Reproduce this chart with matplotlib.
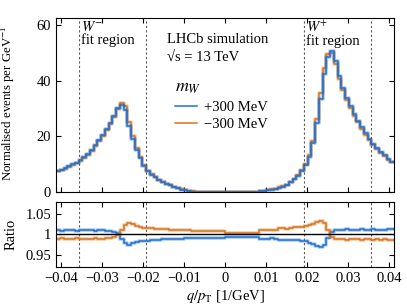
import numpy as np
import matplotlib
matplotlib.use('Agg')
import matplotlib.pyplot as plt
from matplotlib.ticker import FuncFormatter

plt.rcParams['font.family'] = ['Liberation Serif', 'DejaVu Serif']
plt.rcParams['mathtext.fontset'] = 'stix'
plt.rcParams['font.size'] = 10.5

# binning of q/pT
x_lo, x_hi, n_bins = -0.0412, 0.0412, 90
fit_edges = [-0.0357, -0.01923, 0.01923, 0.0357]

# nominal distribution (events per GeV^-1)
nominal = [7.5, 8.0, 8.5, 9.1, 9.8, 10.5, 11.3, 12.4, 13.6, 15.0,
           16.8, 18.4, 20.3, 22.5, 24.6, 27.2, 30.0, 31.6, 30.0, 24.5,
           19.5, 15.5, 12.3, 9.6, 7.6, 6.3, 5.3, 4.4, 3.6, 3.0,
           2.4, 1.8, 1.3, 0.9, 0.6, 0.35, 0.18, 0.08, 0.03, 0.01,
           0, 0, 0, 0, 0, 0, 0, 0, 0, 0,
           0.01, 0.03, 0.06, 0.12, 0.2, 0.35, 0.6, 0.9, 1.2, 1.6,
           2.0, 2.6, 3.5, 4.6, 5.9, 7.6, 9.8, 13.0, 18.0, 25.5,
           34.5, 43.5, 49.0, 50.3, 46.5, 41.0, 37.0, 33.5, 30.5, 27.8,
           25.3, 23.0, 20.8, 18.8, 17.0, 15.5, 14.2, 13.0, 11.8, 10.8]

# ratio to nominal, m_W +300 MeV
ratio_plus = [1.010, 1.009, 1.010, 1.011, 1.010, 1.009, 1.010, 1.010, 1.011, 1.010,
              1.009, 1.010, 1.010, 1.009, 1.008, 1.006, 1.003, 0.990, 0.980, 0.974,
              0.978, 0.981, 0.983, 0.984, 0.985, 0.986, 0.987, 0.987, 0.988, 0.988,
              0.989, 0.990, 0.990, 0.990, 0.991, 0.992, 0.992, 0.992, 0.992, 0.992,
              0.992, 0.992, 0.992, 0.992, 0.992, 0.995, 0.995, 0.995, 0.995, 0.995,
              0.995, 0.995, 0.995, 0.995, 0.990, 0.990, 0.990, 0.991, 0.990, 0.986,
              0.986, 0.987, 0.986, 0.986, 0.986, 0.985, 0.984, 0.980, 0.976, 0.972,
              0.968, 0.975, 0.992, 1.005, 1.010, 1.012, 1.012, 1.013, 1.012, 1.012,
              1.012, 1.013, 1.012, 1.012, 1.013, 1.012, 1.012, 1.012, 1.013, 1.013]

# ratio to nominal, m_W -300 MeV
ratio_minus = [0.990, 0.991, 0.990, 0.989, 0.990, 0.991, 0.990, 0.990, 0.989, 0.990,
               0.991, 0.990, 0.990, 0.991, 0.992, 0.994, 0.998, 1.012, 1.024, 1.028,
               1.025, 1.022, 1.019, 1.017, 1.016, 1.015, 1.014, 1.014, 1.013, 1.013,
               1.012, 1.011, 1.011, 1.010, 1.010, 1.010, 1.009, 1.009, 1.009, 1.009,
               1.009, 1.009, 1.009, 1.009, 1.009, 1.004, 1.004, 1.004, 1.004, 1.004,
               1.004, 1.004, 1.004, 1.004, 1.010, 1.010, 1.011, 1.010, 1.010, 1.015,
               1.015, 1.014, 1.015, 1.019, 1.019, 1.019, 1.021, 1.024, 1.027, 1.030,
               1.034, 1.028, 1.010, 0.995, 0.990, 0.988, 0.988, 0.987, 0.988, 0.988,
               0.988, 0.987, 0.988, 0.988, 0.987, 0.988, 0.987, 0.988, 0.987, 0.987]

edges = np.linspace(x_lo, x_hi, n_bins + 1)
nominal = np.array(nominal)
ratio_plus = np.array(ratio_plus)
ratio_minus = np.array(ratio_minus)
h_plus = nominal * ratio_plus
h_minus = nominal * ratio_minus

c_plus = '#1f6fd0'
c_minus = '#d8721c'

fig = plt.figure(figsize=(4.07, 3.05), dpi=100)
ax = fig.add_axes([0.1376, 0.3705, 0.8305, 0.5705])
axr = fig.add_axes([0.1376, 0.1246, 0.8305, 0.2131])


def step(a, y, color, **kw):
    yy = np.append(y, y[-1])
    a.step(edges, yy, where='post', color=color, alpha=0.3, lw=2.8)
    return a.step(edges, yy, where='post', color=color, lw=1.1, **kw)


step(ax, h_minus, c_minus, label='\u2212300 MeV')
step(ax, h_plus, c_plus, label='+300 MeV')

for xe in fit_edges:
    ax.axvline(xe, color='0.35', ls=(0, (2, 2)), lw=0.8)
    axr.axvline(xe, color='0.35', ls=(0, (2, 2)), lw=0.8)

ax.set_xlim(x_lo, x_hi)
ax.set_ylim(0, 62.5)
ax.set_yticks([0, 20, 40, 60])
ax.set_xticks([-0.04, -0.03, -0.02, -0.01, 0, 0.01, 0.02, 0.03, 0.04])
ax.set_xticklabels([])
ax.set_ylabel('Normalised events per GeV$^{-1}$', fontsize=9.3)
ax.yaxis.set_label_coords(-0.115, 0.51)

ax.text(-0.0352, 61.8, '$W^{-}$\nfit region', va='top', ha='left', linespacing=0.95)
ax.text(0.0197, 61.8, '$W^{+}$\nfit region', va='top', ha='left', linespacing=0.95)
ax.text(-0.0141, 57.0, 'LHCb simulation\n\u221as = 13 TeV', va='top', ha='left',
        linespacing=1.45)

handles, labels = ax.get_legend_handles_labels()
leg = ax.legend(handles[::-1], labels[::-1], title='$m_W$', loc='upper left',
                bbox_to_anchor=(0.335, 0.685), frameon=False, handlelength=1.5,
                handletextpad=0.5, labelspacing=0.3, borderaxespad=0,
                title_fontsize=13)
leg._legend_box.align = 'left'

step(axr, ratio_plus, c_plus)
step(axr, ratio_minus, c_minus)
axr.axhline(1.0, color='black', lw=1.0)
axr.set_xlim(x_lo, x_hi)
axr.set_ylim(0.92, 1.08)
axr.set_yticks([0.95, 1.0, 1.05])
axr.yaxis.set_major_formatter(FuncFormatter(lambda v, p: '%g' % v))
axr.set_xticks([-0.04, -0.03, -0.02, -0.01, 0, 0.01, 0.02, 0.03, 0.04])
axr.xaxis.set_major_formatter(FuncFormatter(lambda v, p: ('%g' % round(v, 3)).replace('-', '\u2212')))
axr.set_ylabel('Ratio')
axr.yaxis.set_label_coords(-0.115, 0.5)
axr.set_xlabel('$q/p_{\\mathrm{T}}$ [1/GeV]', labelpad=2)

for a in (ax, axr):
    a.tick_params(direction='in', top=True, right=True, length=3.5, width=0.8)
    for s in a.spines.values():
        s.set_linewidth(0.8)

fig.savefig('out.png', dpi=100)
